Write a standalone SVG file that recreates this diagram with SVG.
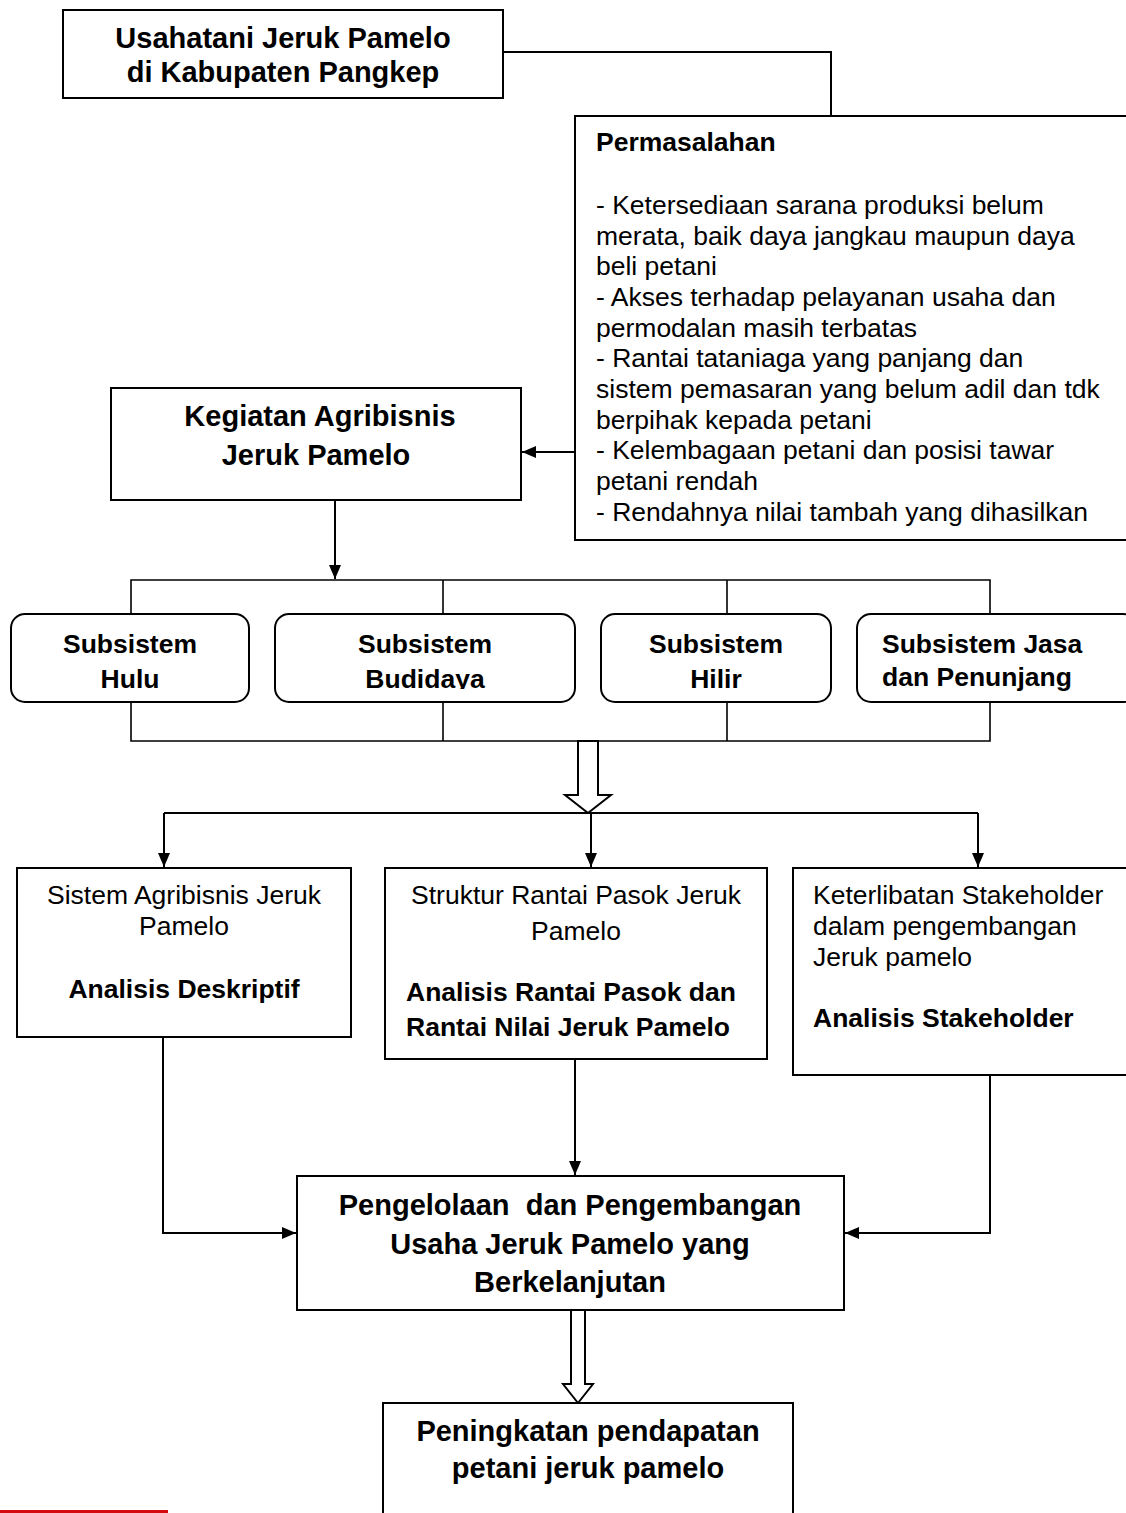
<svg xmlns="http://www.w3.org/2000/svg" width="1126" height="1513" viewBox="0 0 1126 1513">
<style>
text{font-family:"Liberation Sans",Arial,sans-serif;fill:#000}
.b{font-weight:bold}
.big{font-size:29px;font-weight:bold}
.m{font-size:26.5px}
.c{text-anchor:middle}
.box{fill:#fff;stroke:#000;stroke-width:2}
.ln{fill:none;stroke:#000;stroke-width:2}
.bus{fill:none;stroke:#000;stroke-width:1.6}
.hol{fill:#fff;stroke:#000;stroke-width:2;stroke-linejoin:miter}
</style>
<defs>
<marker id="ah" viewBox="0 0 14 12" refX="14" refY="6" markerWidth="14" markerHeight="12" markerUnits="userSpaceOnUse" orient="auto">
<path d="M0,0 L14,6 L0,12 Z" fill="#000"/>
</marker>
<clipPath id="clipBud"><rect x="275" y="614" width="300" height="75"/></clipPath>
</defs>

<g id="connectors">
<polyline class="ln" points="503,52 831,52 831,116"/>
<line class="ln" x1="575" y1="452" x2="522" y2="452" marker-end="url(#ah)"/>
<line class="ln" x1="335" y1="500" x2="335" y2="579" marker-end="url(#ah)"/>
<polyline class="bus" points="131,614 131,580 990,580 990,614"/>
<line class="bus" x1="443" y1="580" x2="443" y2="614"/>
<line class="bus" x1="727" y1="580" x2="727" y2="614"/>
<polyline class="bus" points="131,702 131,741 990,741 990,702"/>
<line class="bus" x1="443" y1="702" x2="443" y2="741"/>
<line class="bus" x1="727" y1="702" x2="727" y2="741"/>
<path class="hol" d="M578,741 L598,741 L598,795 L611,795 L588,813 L565,795 L578,795 Z"/>
<line class="ln" x1="164" y1="813" x2="978" y2="813"/>
<line class="ln" x1="164" y1="813" x2="164" y2="867" marker-end="url(#ah)"/>
<line class="ln" x1="591" y1="813" x2="591" y2="867" marker-end="url(#ah)"/>
<line class="ln" x1="978" y1="813" x2="978" y2="867" marker-end="url(#ah)"/>
<polyline class="ln" points="163,1037 163,1233 296,1233" marker-end="url(#ah)"/>
<line class="ln" x1="575" y1="1059" x2="575" y2="1175" marker-end="url(#ah)"/>
<polyline class="ln" points="990,1075 990,1233 845,1233" marker-end="url(#ah)"/>
<path class="hol" d="M571,1310 L585,1310 L585,1384 L593,1384 L578,1403 L563,1384 L571,1384 Z"/>
</g>

<g id="usahatani">
<rect class="box" x="63" y="10" width="440" height="88"/>
<text class="big c" x="283" y="48">Usahatani Jeruk Pamelo</text>
<text class="big c" x="283" y="82">di Kabupaten Pangkep</text>
</g>

<g id="permasalahan">
<rect class="box" x="575" y="116" width="560" height="424"/>
<text class="m b" x="596" y="151">Permasalahan</text>
<text class="m" x="596" y="214">- Ketersediaan sarana produksi belum</text>
<text class="m" x="596" y="245">merata, baik daya jangkau maupun daya</text>
<text class="m" x="596" y="275">beli petani</text>
<text class="m" x="596" y="306">- Akses terhadap pelayanan usaha dan</text>
<text class="m" x="596" y="337">permodalan masih terbatas</text>
<text class="m" x="596" y="367">- Rantai tataniaga yang panjang dan</text>
<text class="m" x="596" y="398">sistem pemasaran yang belum adil dan tdk</text>
<text class="m" x="596" y="429">berpihak kepada petani</text>
<text class="m" x="596" y="459">- Kelembagaan petani dan posisi tawar</text>
<text class="m" x="596" y="490">petani rendah</text>
<text class="m" x="596" y="521">- Rendahnya nilai tambah yang dihasilkan</text>
</g>

<g id="kegiatan">
<rect class="box" x="111" y="388" width="410" height="112"/>
<text class="big c" x="320" y="426">Kegiatan Agribisnis</text>
<text class="big c" x="316" y="465">Jeruk Pamelo</text>
</g>

<g id="hulu">
<rect class="box" x="11" y="614" width="238" height="88" rx="14"/>
<text class="m b c" x="130" y="653">Subsistem</text>
<text class="m b c" x="130" y="688">Hulu</text>
</g>
<g id="budidaya">
<rect class="box" x="275" y="614" width="300" height="88" rx="14"/>
<text class="m b c" x="425" y="653">Subsistem</text>
<text class="m b c" x="425" y="688" clip-path="url(#clipBud)">Budidaya</text>
</g>
<g id="hilir">
<rect class="box" x="601" y="614" width="230" height="88" rx="14"/>
<text class="m b c" x="716" y="653">Subsistem</text>
<text class="m b c" x="716" y="688">Hilir</text>
</g>
<g id="jasa">
<rect class="box" x="857" y="614" width="280" height="88" rx="14"/>
<text class="m b" x="882" y="653">Subsistem Jasa</text>
<text class="m b" x="882" y="686">dan Penunjang</text>
</g>

<g id="sistem">
<rect class="box" x="17" y="868" width="334" height="169"/>
<text class="m c" x="184" y="904">Sistem Agribisnis Jeruk</text>
<text class="m c" x="184" y="935">Pamelo</text>
<text class="m b c" x="184" y="998">Analisis Deskriptif</text>
</g>

<g id="struktur">
<rect class="box" x="385" y="868" width="382" height="191"/>
<text class="m c" x="576" y="904">Struktur Rantai Pasok Jeruk</text>
<text class="m c" x="576" y="940">Pamelo</text>
<text class="m b" x="406" y="1001">Analisis Rantai Pasok dan</text>
<text class="m b" x="406" y="1036">Rantai Nilai Jeruk Pamelo</text>
</g>

<g id="keterlibatan">
<rect class="box" x="793" y="868" width="345" height="207"/>
<text class="m" x="813" y="904">Keterlibatan Stakeholder</text>
<text class="m" x="813" y="935">dalam pengembangan</text>
<text class="m" x="813" y="966">Jeruk pamelo</text>
<text class="m b" x="813" y="1027">Analisis Stakeholder</text>
</g>

<g id="pengelolaan">
<rect class="box" x="297" y="1176" width="547" height="134"/>
<text class="big c" x="570" y="1215" xml:space="preserve">Pengelolaan  dan Pengembangan</text>
<text class="big c" x="570" y="1254">Usaha Jeruk Pamelo yang</text>
<text class="big c" x="570" y="1292">Berkelanjutan</text>
</g>

<g id="peningkatan">
<rect class="box" x="383" y="1403" width="410" height="120"/>
<text class="big c" x="588" y="1441">Peningkatan pendapatan</text>
<text class="big c" x="588" y="1478">petani jeruk pamelo</text>
</g>

<rect x="0" y="1510" width="168" height="3" fill="#d40a10"/>
</svg>
